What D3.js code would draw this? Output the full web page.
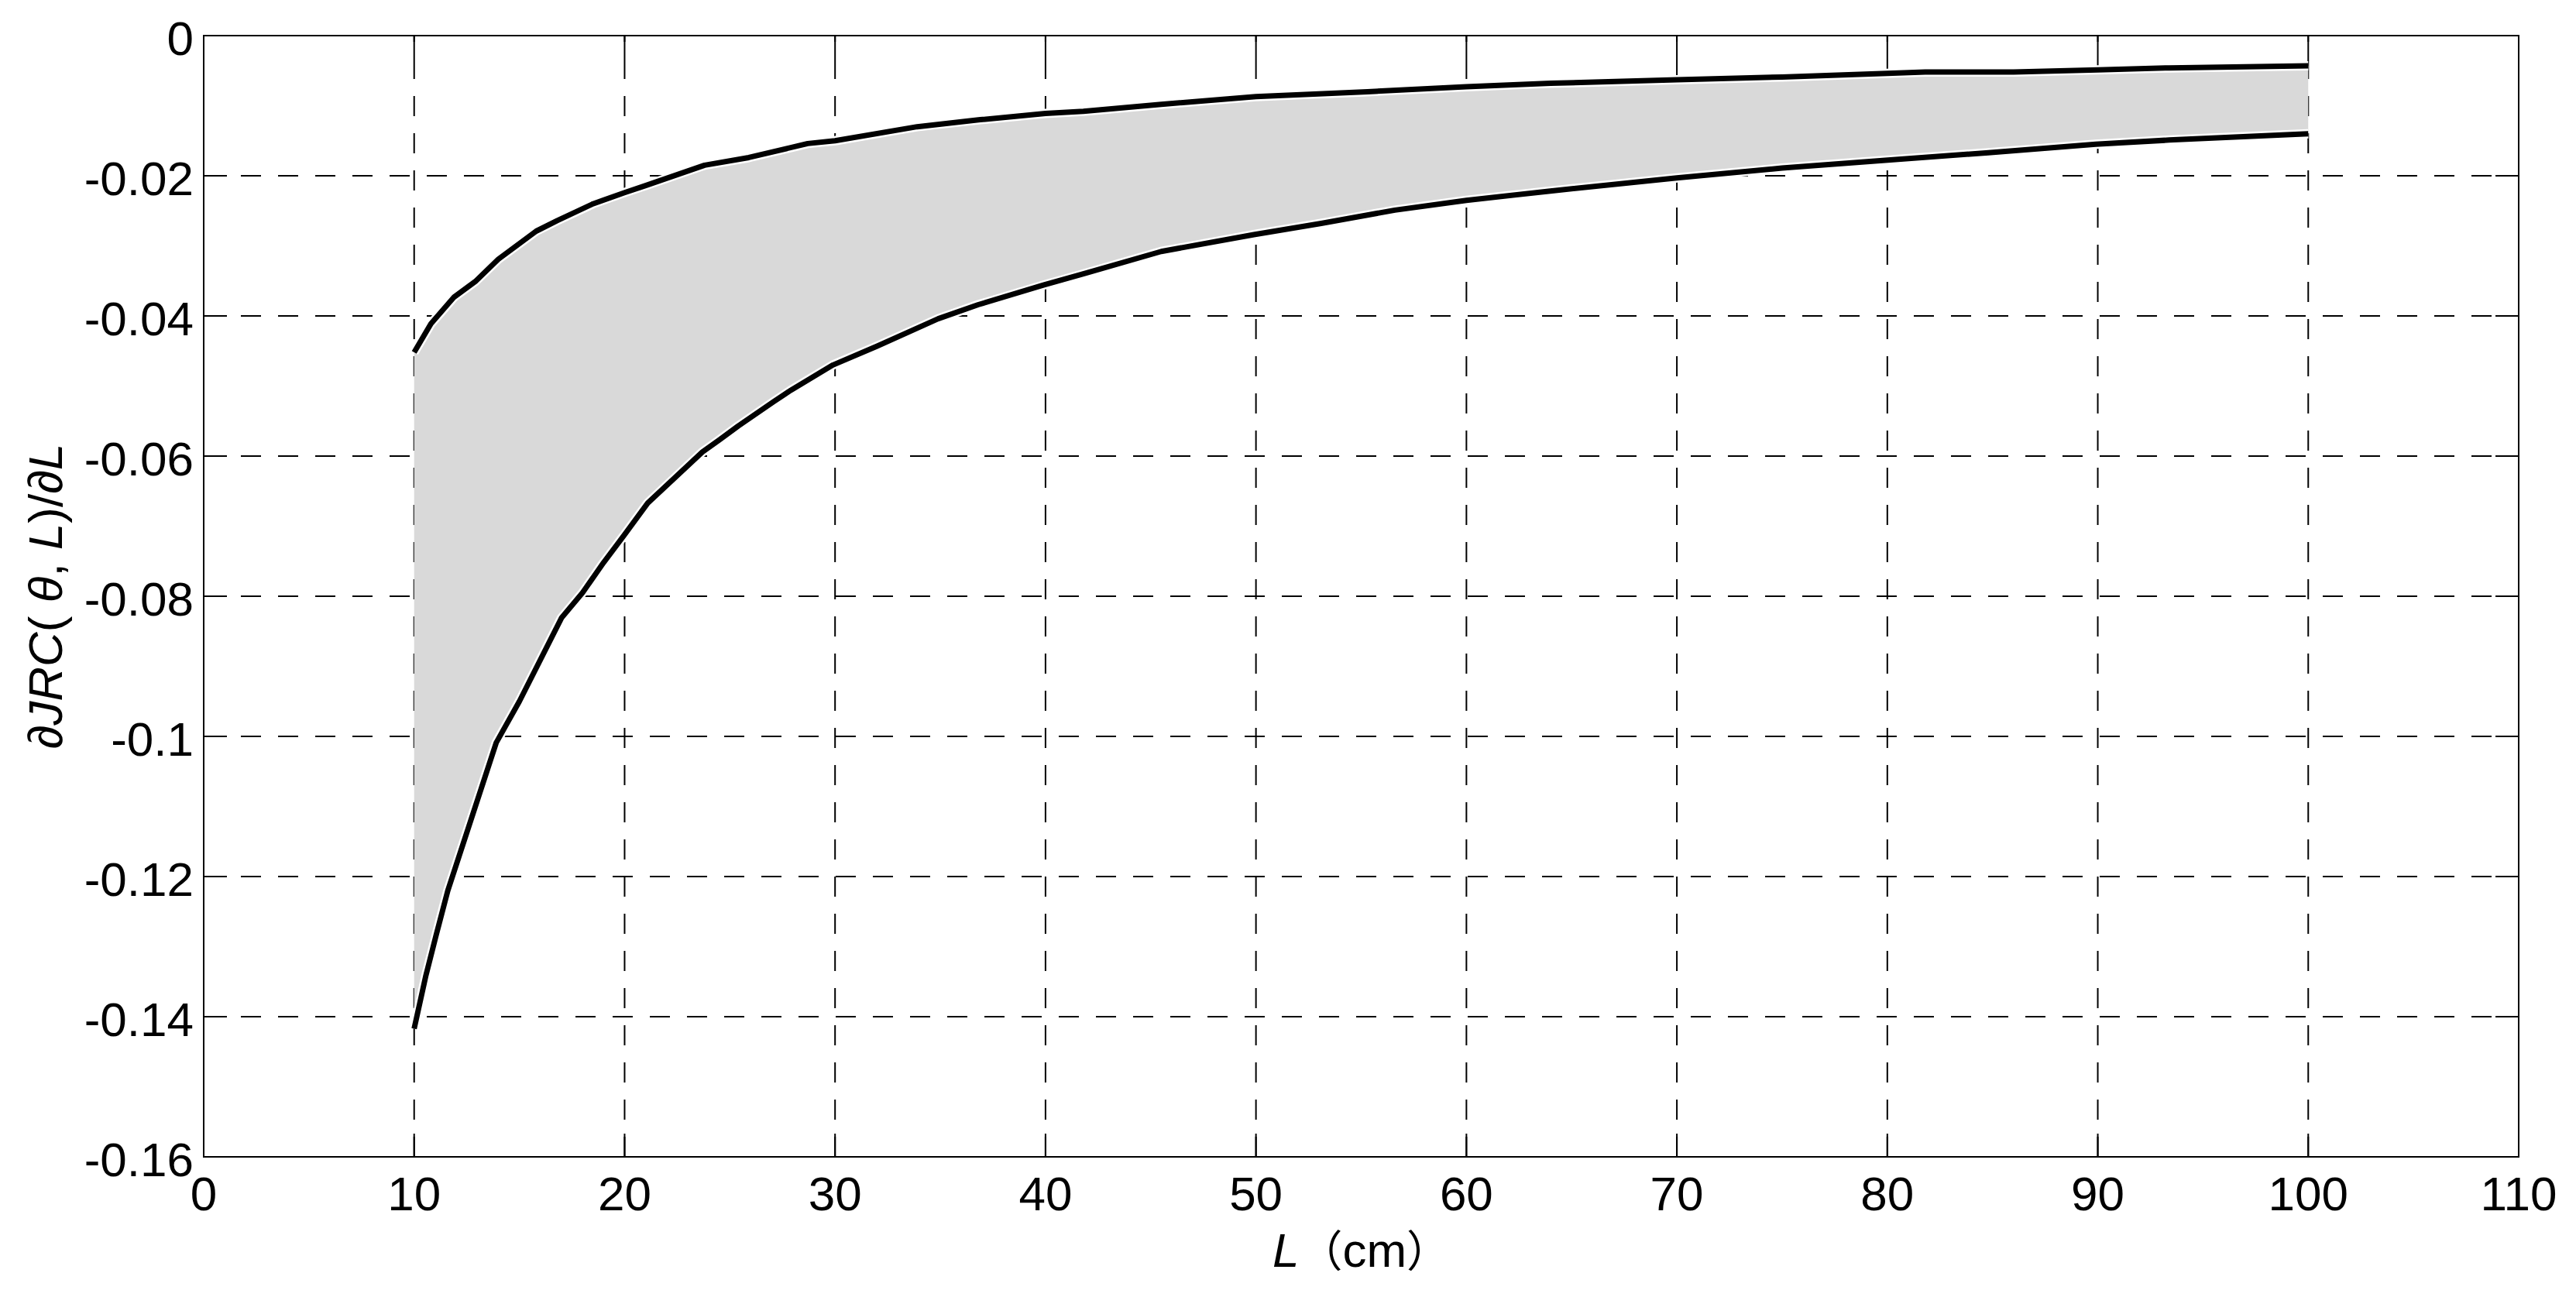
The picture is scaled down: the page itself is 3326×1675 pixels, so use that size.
<!DOCTYPE html>
<html>
<head>
<meta charset="utf-8">
<script src="https://cdn.jsdelivr.net/npm/d3@7/dist/d3.min.js"></script>
<style>
  html, body { margin: 0; padding: 0; background: #fff; }
  svg { display: block; }
  text { font-family: "Liberation Sans", Arial, "Noto Sans CJK SC", sans-serif; fill: #000; }
</style>
</head>
<body>
<svg id="chart" width="3326" height="1675"></svg>
<script>
// ---- data ----
const upperL = [10, 10.8, 11.9, 12.9, 14.0, 15.8, 16.8, 18.5, 20.0, 21.0, 23.8, 25.9, 28.7, 30, 33.9, 36.9, 40, 41.8, 45.5, 50, 55.3, 60, 64, 70, 75, 80, 81.8, 86, 90, 93.4, 100];
const upperV = [-0.0452, -0.0411, -0.0373, -0.0351, -0.0319, -0.0279, -0.0264, -0.0240, -0.0224, -0.0214, -0.0185, -0.0174, -0.0154, -0.0150, -0.0130, -0.0120, -0.0111, -0.0108, -0.0098, -0.0087, -0.0080, -0.0073, -0.0068, -0.0063, -0.0059, -0.0054, -0.0052, -0.0052, -0.0049, -0.0046, -0.0043];
const lowerL = [10, 10.56, 11.05, 11.6, 13.9, 15, 17, 18, 19, 20, 21.1, 23.7, 24.5, 25.4, 27.1, 27.9, 29.9, 32.0, 34.9, 36.8, 39.9, 41.8, 45.5, 49.9, 53.1, 56.6, 60, 63.9, 70, 75, 79.9, 84.8, 89.9, 93.4, 100];
const lowerV = [-0.1417, -0.1341, -0.1283, -0.1220, -0.1009, -0.0950, -0.0831, -0.0795, -0.0752, -0.0712, -0.0667, -0.0594, -0.0577, -0.0557, -0.0522, -0.0506, -0.0470, -0.0443, -0.0404, -0.0384, -0.0356, -0.0340, -0.0308, -0.0284, -0.0268, -0.0249, -0.0235, -0.0222, -0.0203, -0.0189, -0.0178, -0.0167, -0.0155, -0.0149, -0.0140];
const xTicks = [0, 10, 20, 30, 40, 50, 60, 70, 80, 90, 100, 110];
const yTicks = [0, -0.02, -0.04, -0.06, -0.08, -0.1, -0.12, -0.14, -0.16];
const yTickLabels = ["0", "-0.02", "-0.04", "-0.06", "-0.08", "-0.1", "-0.12", "-0.14", "-0.16"];

// ---- layout ----
const L = 263, R = 3252, T = 46, B = 1494;
const svg = d3.select("#chart");
const x = d3.scaleLinear().domain([0, 110]).range([L, R]);
const y = d3.scaleLinear().domain([-0.16, 0]).range([B, T]);

const upper = upperL.map((d, i) => [d, upperV[i]]);
const lower = lowerL.map((d, i) => [d, lowerV[i]]);

// grid
const grid = svg.append("g").attr("stroke", "#000").attr("stroke-width", 2).attr("stroke-dasharray", "26,22");
xTicks.slice(1, -1).forEach(t => {
  grid.append("line").attr("x1", x(t)).attr("x2", x(t)).attr("y1", B).attr("y2", T);
});
yTicks.slice(1, -1).forEach(t => {
  grid.append("line").attr("x1", L).attr("x2", R).attr("y1", y(t)).attr("y2", y(t));
});

// fill band
const line = d3.line().x(d => x(d[0])).y(d => y(d[1]));
const poly = upper.concat(lower.slice().reverse());
svg.append("path").attr("d", line(poly) + "Z").attr("fill", "#d9d9d9").attr("stroke", "none");

// curves with white halo
[upper, lower].forEach(s => {
  svg.append("path").attr("d", line(s)).attr("fill", "none").attr("stroke", "#fff").attr("stroke-width", 12).attr("stroke-linejoin", "round");
});
[upper, lower].forEach(s => {
  svg.append("path").attr("d", line(s)).attr("fill", "none").attr("stroke", "#000").attr("stroke-width", 7).attr("stroke-linejoin", "round");
});

// axes box
svg.append("rect").attr("x", L).attr("y", T).attr("width", R - L).attr("height", B - T)
  .attr("fill", "none").attr("stroke", "#000").attr("stroke-width", 2);

// ticks (inward, all sides)
const tk = svg.append("g").attr("stroke", "#000").attr("stroke-width", 2);
const TL = 30;
xTicks.forEach(t => {
  tk.append("line").attr("x1", x(t)).attr("x2", x(t)).attr("y1", B).attr("y2", B - TL);
  tk.append("line").attr("x1", x(t)).attr("x2", x(t)).attr("y1", T).attr("y2", T + TL);
});
yTicks.forEach(t => {
  tk.append("line").attr("x1", L).attr("x2", L + TL).attr("y1", y(t)).attr("y2", y(t));
  tk.append("line").attr("x1", R).attr("x2", R - TL).attr("y1", y(t)).attr("y2", y(t));
});

// tick labels
const FS = 62;
xTicks.forEach(t => {
  svg.append("text").attr("x", x(t)).attr("y", B + 69).attr("text-anchor", "middle")
    .attr("font-size", FS).text(String(t));
});
yTicks.forEach((t, i) => {
  svg.append("text").attr("x", L - 13).attr("y", y(t) + 25).attr("text-anchor", "end")
    .attr("font-size", FS).text(yTickLabels[i]);
});

// x label
const xl = svg.append("text").attr("x", (L + R) / 2).attr("y", 1636).attr("text-anchor", "middle").attr("font-size", FS);
xl.append("tspan").attr("font-style", "italic").text("L");
xl.append("tspan").attr("font-family", "'Noto Sans CJK SC', sans-serif").attr("font-size", 56).text("（");
xl.append("tspan").text("cm");
xl.append("tspan").attr("font-family", "'Noto Sans CJK SC', sans-serif").attr("font-size", 56).text("）");

// y label
const yl = svg.append("text").attr("transform", `translate(80,${(T + B) / 2}) rotate(-90)`)
  .attr("text-anchor", "middle").attr("font-size", FS);
yl.append("tspan").text("∂");
yl.append("tspan").attr("font-style", "italic").text("JRC");
yl.append("tspan").text("( ");
yl.append("tspan").attr("font-style", "italic").text("θ");
yl.append("tspan").text(",  ");
yl.append("tspan").attr("font-style", "italic").text("L");
yl.append("tspan").text(")/∂");
yl.append("tspan").attr("font-style", "italic").text("L");
</script>
</body>
</html>
